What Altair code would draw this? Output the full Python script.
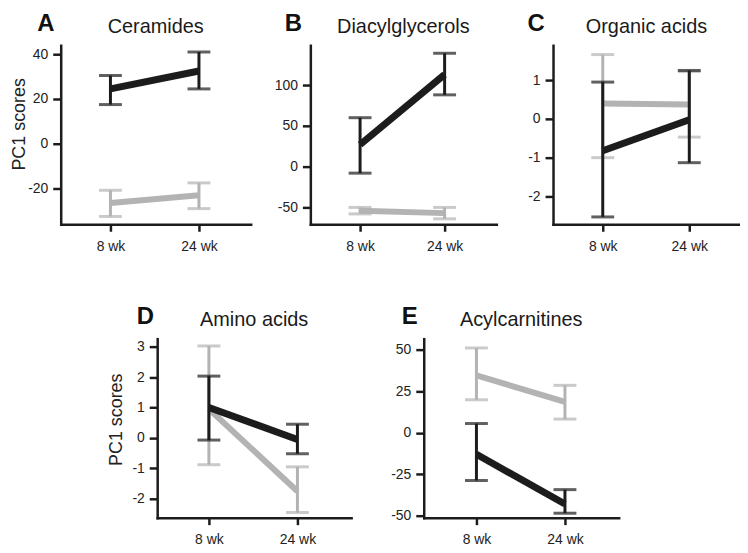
import altair as alt
import pandas as pd

# ---------------- data ----------------
times = ["8 wk", "24 wk"]
panel_keys = ["A", "B", "C", "D", "E"]
panel_titles = {"A": "Ceramides", "B": "Diacylglycerols", "C": "Organic acids",
                "D": "Amino acids", "E": "Acylcarnitines"}

# Group 1 (black): mean, lower and upper error at 8 wk, 24 wk
g1_mean = {"A": [24.5, 32.5], "B": [27, 113], "C": [-0.82, -0.02], "D": [1.0, -0.05], "E": [-13, -43]}
g1_low = {"A": [17.5, 24.5], "B": [-8, 88], "C": [-2.53, -1.13], "D": [-0.07, -0.52], "E": [-28.8, -48.5]}
g1_high = {"A": [30.5, 41], "B": [60, 139], "C": [0.95, 1.25], "D": [2.03, 0.45], "E": [5.5, -34.3]}
# Group 2 (gray)
g2_mean = {"A": [-26.5, -23], "B": [-54, -57], "C": [0.4, 0.37], "D": [0.95, -1.75], "E": [34.5, 18.5]}
g2_low = {"A": [-32.5, -29], "B": [-58, -64], "C": [-1.0, -0.47], "D": [-0.88, -2.45], "E": [19.8, 8.2]}
g2_high = {"A": [-20.8, -17.5], "B": [-50, -50], "C": [1.66, 1.22], "D": [3.02, -0.95], "E": [51, 28.5]}

y_ticks = {"A": [-20, 0, 20, 40], "B": [-50, 0, 50, 100], "C": [-2, -1, 0, 1],
           "D": [-2, -1, 0, 1, 2, 3], "E": [-50, -25, 0, 25, 50]}
y_domains = {"A": [-36, 44], "B": [-70.7, 148.8], "C": [-2.72, 1.9],
             "D": [-2.62, 3.26], "E": [-51.2, 56.6]}
y_title = "PC1 scores"

# ---------------- style / layout ----------------
FONT = "Liberation Sans"
DARK = "#1c1c1c"
GRAY = "#b3b3b3"

geom = {
    # w, h, x of 8wk, x of 24wk, y-axis extent, letter dx/dy, title dy, y-title centre
    "A": dict(w=191, h=180, x0=50, x1=139, ext=24, ldx=-15, ldy=-14, tdy=-12, yt=79),
    "B": dict(w=187, h=180, x0=50, x1=135, ext=60, ldx=-17, ldy=-14, tdy=-12, yt=None),
    "C": dict(w=188, h=180, x0=50, x1=137, ext=57, ldx=-17, ldy=-14, tdy=-12, yt=None),
    "D": dict(w=195, h=180, x0=52, x1=141, ext=24, ldx=-12, ldy=-15, tdy=-13, yt=81),
    "E": dict(w=196, h=180, x0=53, x1=142, ext=73, ldx=-14, ldy=-15, tdy=-13, yt=None),
}

MINUS_FIX = "replace(datum.label, '\u2212', '-')"


def panel(k):
    g = geom[k]
    rows = []
    for grp, m, lo, hi in [("Group 1", g1_mean, g1_low, g1_high),
                           ("Group 2", g2_mean, g2_low, g2_high)]:
        for i, t in enumerate(times):
            rows.append(dict(group=grp, time=t, mean=m[k][i], low=lo[k][i], high=hi[k][i]))
    df = pd.DataFrame(rows)

    step = g["x1"] - g["x0"]
    outer = g["w"] - step
    xscale = alt.Scale(type="point", domain=times, padding=outer / (2 * step),
                       align=g["x0"] / outer)
    xaxis = alt.Axis(title=None, labelAngle=0, tickSize=7, labelPadding=8,
                     labelFontSize=14, labelFont=FONT, labelColor="#222",
                     domainColor=DARK, tickColor=DARK, domainWidth=2.5, tickWidth=2.5,
                     domainCap="square", grid=False)
    yscale = alt.Scale(domain=y_domains[k], nice=False, zero=False)
    yargs = dict(values=y_ticks[k], tickSize=8, labelPadding=5, labelFontSize=14,
                 labelFont=FONT, labelColor="#222", labelExpr=MINUS_FIX,
                 minExtent=g["ext"], maxExtent=g["ext"], grid=False,
                 domainColor=DARK, tickColor=DARK, domainWidth=2.5, tickWidth=2.5,
                 domainCap="square", titlePadding=8, titleFontSize=18, titleFont=FONT,
                 titleFontWeight="normal", titleColor="#222")
    if g["yt"] is not None:
        yargs["titleY"] = g["yt"]
    yaxis = alt.Axis(**yargs)
    yt = y_title if g["yt"] is not None else None
    x = alt.X("time:N", scale=xscale, axis=xaxis, title=None)

    def Y(field):
        return alt.Y(field, type="quantitative", scale=yscale, axis=yaxis, title=yt)

    layers = []
    for grp, color, lw in [("Group 2", GRAY, 6), ("Group 1", DARK, 7)]:
        base = alt.Chart(df).transform_filter(alt.datum.group == grp)
        layers.append(base.mark_rule(color=color, strokeWidth=3).encode(
            x=x, y=Y("low"), y2="high:Q"))
        layers.append(base.mark_tick(color=color, size=23, thickness=3).encode(
            x=x, y=Y("low")))
        layers.append(base.mark_tick(color=color, size=23, thickness=3).encode(
            x=x, y=Y("high")))
        layers.append(base.mark_line(color=color, strokeWidth=lw, strokeCap="butt").encode(
            x=x, y=Y("mean")))

    lab = pd.DataFrame({"letter": [k], "title": [panel_titles[k]]})
    layers.append(alt.Chart(lab).mark_text(
        font=FONT, fontSize=24, fontWeight="bold", color="#111", align="center",
        baseline="alphabetic").encode(text="letter:N", x=alt.value(g["ldx"]),
                                      y=alt.value(g["ldy"])))
    layers.append(alt.Chart(lab).mark_text(
        font=FONT, fontSize=20, color="#1a1a1a", align="center",
        baseline="alphabetic").encode(text="title:N", x=alt.value(g["w"] / 2),
                                      y=alt.value(g["tdy"])))
    return alt.layer(*layers).properties(width=g["w"], height=g["h"])


spacer = alt.Chart(pd.DataFrame({"a": [0]})).mark_point(opacity=0).properties(
    width=47, height=1)

row1 = alt.hconcat(panel("A"), panel("B"), panel("C"), spacing=0)
row2 = alt.hconcat(spacer, panel("D"), panel("E"), spacing=0)

chart = alt.vconcat(row1, row2, spacing=52).properties(
    padding={"left": 3, "top": 3, "right": 0, "bottom": 0},
    background="white",
).configure_view(stroke=None)

chart.save("out.html", embed_options={"renderer": "svg", "actions": False})
